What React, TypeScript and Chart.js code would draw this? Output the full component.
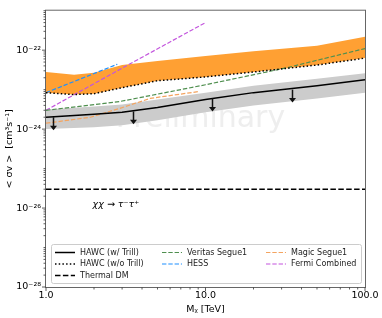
import React, { useEffect, useRef } from 'react';
import { Chart, registerables } from 'chart.js';

Chart.register(...registerables);

// ---- data (TeV, cm^3 s^-1) ----
const hawcMass = [1, 2, 3, 5, 10, 20, 50, 100];
const hawcTrill = [2.0e-24, 2.37e-24, 2.66e-24, 3.55e-24, 5.6e-24, 8.4e-24, 1.26e-23, 1.78e-23];
const hawcBandHigh = [3.16e-24, 3.76e-24, 4.2e-24, 5.6e-24, 8.4e-24, 1.26e-23, 1.88e-23, 2.6e-23];
const hawcBandLow = [1.0e-24, 1.12e-24, 1.26e-24, 1.68e-24, 2.66e-24, 3.98e-24, 5.96e-24, 8.4e-24];

const noTrillMass = [1, 1.5, 2, 3, 5, 10, 20, 50, 100];
const noTrillBandHigh = [2.8e-23, 2.37e-23, 2.66e-23, 4.2e-23, 5.3e-23, 7.1e-23, 9.4e-23, 1.3e-22, 2.2e-22];
const noTrill = [8.4e-24, 7.5e-24, 7.9e-24, 1.12e-23, 1.68e-23, 2.1e-23, 2.8e-23, 4.2e-23, 6.3e-23];

const veritasMass = [1, 2.9, 10, 32, 100];
const veritas = [3.0e-24, 5.0e-24, 1.33e-23, 3.55e-23, 1.1e-22];

const hessMass = [1, 2.8];
const hess = [8.4e-24, 4.4e-23];

const magicMass = [1, 1.9, 3, 4.5, 9];
const magic = [1.41e-24, 2.0e-24, 3.5e-24, 6.0e-24, 8.9e-24];

const fermiMass = [1, 3, 10];
const fermi = [3.0e-24, 3.5e-23, 5.0e-22];

const thermalMass = [1, 100];
const thermal = [3.0e-26, 3.0e-26];

const arrowMass = [1.1, 3.5, 11, 35];
const arrowTop = [2.0e-24, 2.8e-24, 6.0e-24, 1.0e-23];
const arrowBottom = [9.4e-25, 1.33e-24, 2.8e-24, 4.7e-24];

const xLabels: Record<number, string> = { 1: '1.0', 10: '10.0', 100: '100.0' };
const yLabeledExponents = [-28, -26, -24, -22];

const legendCols = [
  ['HAWC (w/ Trill)', 'HAWC (w/o Trill)', 'Thermal DM'],
  ['Veritas Segue1', 'HESS'],
  ['Magic Segue1', 'Fermi Combined'],
];

const FONT = "'DejaVu Sans', 'Noto Sans', sans-serif";

const pts = (xs: number[], ys: number[]) => xs.map((x, i) => ({ x, y: ys[i] }));

const SUP: Record<string, string> = { '-': '⁻', '0': '⁰', '1': '¹', '2': '²', '3': '³', '4': '⁴', '5': '⁵', '6': '⁶', '7': '⁷', '8': '⁸', '9': '⁹' };
const sup = (s: string) => s.split('').map((c) => SUP[c] || c).join('');

const isDecade = (v: number) => Math.abs(Math.log10(v) - Math.round(Math.log10(v))) < 1e-6;

const decorPlugin = {
  id: 'decor',
  beforeDatasetsDraw(chart: any) {
    const { ctx, chartArea: a } = chart;
    ctx.save();
    ctx.font = `30px ${FONT}`;
    ctx.fillStyle = '#eeeeee';
    ctx.textAlign = 'center';
    ctx.textBaseline = 'alphabetic';
    ctx.fillText('Preliminary', (a.left + a.right) / 2 - 5, 127);
    ctx.restore();
  },
  afterDatasetsDraw(chart: any) {
    const { ctx, chartArea: a, scales } = chart;
    const xs = scales.x;
    const ys = scales.y;
    ctx.save();
    // arrows
    ctx.strokeStyle = '#111';
    ctx.fillStyle = '#111';
    ctx.lineWidth = 1.5;
    arrowMass.forEach((m, i) => {
      const px = Math.round(xs.getPixelForValue(m)) + 0.5;
      const y0 = ys.getPixelForValue(arrowTop[i]);
      const y1 = ys.getPixelForValue(arrowBottom[i]);
      ctx.beginPath();
      ctx.moveTo(px, y0);
      ctx.lineTo(px, y1 - 4);
      ctx.stroke();
      ctx.beginPath();
      ctx.moveTo(px - 3.5, y1 - 4.5);
      ctx.lineTo(px + 3.5, y1 - 4.5);
      ctx.lineTo(px, y1);
      ctx.closePath();
      ctx.fill();
    });
    // annotation
    ctx.font = `italic 9.5px ${FONT}`;
    ctx.fillStyle = '#000';
    ctx.textAlign = 'left';
    ctx.textBaseline = 'middle';
    ctx.fillText('χχ → τ⁻τ⁺', xs.getPixelForValue(1.96), ys.getPixelForValue(1.2e-26));
    // frame
    ctx.strokeStyle = '#666';
    ctx.lineWidth = 1;
    ctx.strokeRect(a.left - 0.5, a.top - 0.5, a.right - a.left + 1, a.bottom - a.top + 1);
    // ticks
    ctx.strokeStyle = '#333';
    ctx.lineWidth = 0.8;
    ys.ticks.forEach((t: any) => {
      const py = ys.getPixelForValue(t.value);
      const e = Math.round(Math.log10(t.value));
      const len = isDecade(t.value) && e % 2 === 0 ? 3.5 : 2;
      ctx.beginPath();
      ctx.moveTo(a.left - 0.5, py);
      ctx.lineTo(a.left - 0.5 - len, py);
      ctx.stroke();
    });
    xs.ticks.forEach((t: any) => {
      const px = xs.getPixelForValue(t.value);
      const len = isDecade(t.value) ? 3.5 : 2;
      ctx.beginPath();
      ctx.moveTo(px, a.bottom + 0.5);
      ctx.lineTo(px, a.bottom + 0.5 + len);
      ctx.stroke();
    });
    // legend
    const bx = 51, by = 244, bw = 310, bh = 39;
    ctx.fillStyle = 'rgba(255,255,255,0.85)';
    ctx.strokeStyle = '#cccccc';
    ctx.lineWidth = 1;
    ctx.beginPath();
    (ctx as any).roundRect(bx + 0.5, by + 0.5, bw, bh, 2);
    ctx.fill();
    ctx.stroke();
    const colX = [55, 162, 266];
    const rowY = [252.5, 264, 275.5];
    ctx.font = `8px ${FONT}`;
    ctx.textBaseline = 'middle';
    legendCols.forEach((col, ci) => {
      col.forEach((label, ri) => {
        const ds = chart.data.datasets.find((d: any) => d.label === label);
        if (!ds) return;
        const x0 = colX[ci];
        const y0 = rowY[ri];
        ctx.save();
        ctx.strokeStyle = ds.borderColor;
        ctx.lineWidth = ds.borderWidth;
        ctx.setLineDash(ds.borderDash || []);
        ctx.beginPath();
        ctx.moveTo(x0, y0);
        ctx.lineTo(x0 + 20, y0);
        ctx.stroke();
        ctx.restore();
        ctx.fillStyle = '#222';
        ctx.fillText(label, x0 + 25, y0);
      });
    });
    ctx.restore();
  },
};

export default function App() {
  const ref = useRef<HTMLCanvasElement>(null);
  useEffect(() => {
    if (!ref.current) return;
    const line = (label: string, xs: number[], ys: number[], color: string, width: number, dash: number[] = []) => ({
      label,
      data: pts(xs, ys),
      borderColor: color,
      backgroundColor: color,
      borderWidth: width,
      borderDash: dash,
      pointRadius: 0,
      tension: 0,
      fill: false,
    });
    const chart = new Chart(ref.current, {
      type: 'line',
      data: {
        datasets: [
          line('HAWC (w/ Trill)', hawcMass, hawcTrill, '#000000', 1.5),
          line('HAWC (w/o Trill)', noTrillMass, noTrill, '#000000', 1.5, [1.5, 2.2]),
          line('Thermal DM', thermalMass, thermal, '#000000', 1.5, [5.5, 2.4]),
          line('Veritas Segue1', veritasMass, veritas, '#4f8f4f', 1.2, [4.4, 1.9]),
          line('HESS', hessMass, hess, '#1e90ff', 1.2, [4.4, 1.9]),
          line('Magic Segue1', magicMass, magic, '#f4a460', 1.2, [4.4, 1.9]),
          line('Fermi Combined', fermiMass, fermi, '#c355dd', 1.2, [4.4, 1.9]),
          {
            label: 'noTrillBand',
            data: pts(noTrillMass, noTrillBandHigh),
            borderWidth: 0,
            borderColor: 'rgba(0,0,0,0)',
            backgroundColor: '#ffa033',
            pointRadius: 0,
            tension: 0,
            fill: 1,
          },
          {
            label: 'hawcBandHigh',
            data: pts(hawcMass, hawcBandHigh),
            borderWidth: 0,
            borderColor: 'rgba(0,0,0,0)',
            backgroundColor: '#cccccc',
            pointRadius: 0,
            tension: 0,
            fill: 9,
          },
          {
            label: 'hawcBandLow',
            data: pts(hawcMass, hawcBandLow),
            borderWidth: 0,
            borderColor: 'rgba(0,0,0,0)',
            backgroundColor: '#cccccc',
            pointRadius: 0,
            tension: 0,
            fill: false,
          },
        ] as any,
      },
      options: {
        responsive: false,
        animation: false,
        devicePixelRatio: 1,
        layout: { padding: { left: 0, right: 17, top: 7, bottom: 0 } },
        plugins: { legend: { display: false }, tooltip: { enabled: false } },
        scales: {
          x: {
            type: 'logarithmic',
            min: 1,
            max: 100,
            afterBuildTicks: (s: any) => {
              const t: any[] = [];
              for (let e = 0; e <= 1; e++) for (let k = 1; k <= 9; k++) t.push({ value: k * Math.pow(10, e) });
              t.push({ value: 100 });
              s.ticks = t;
            },
            afterFit: (s: any) => {
              s.height = 31;
            },
            grid: { display: false, drawTicks: false },
            border: { display: false },
            ticks: {
              autoSkip: false,
              maxRotation: 0,
              padding: 3,
              color: '#000',
              font: { family: FONT, size: 9.5 },
              callback: (v: any) => {
                const n = Number(v);
                const key = Object.keys(xLabels).find((k) => Math.abs(Number(k) - n) < 1e-9);
                return key ? xLabels[Number(key)] : '';
              },
            },
            title: {
              display: true,
              text: 'Mᵪ [TeV]',
              color: '#000',
              font: { family: FONT, size: 9.5 },
              padding: { top: 0, bottom: 3 },
            },
          },
          y: {
            type: 'logarithmic',
            min: 1e-28,
            max: 1e-21,
            afterBuildTicks: (s: any) => {
              const t: any[] = [];
              for (let e = -28; e <= -22; e++) for (let k = 1; k <= 9; k++) t.push({ value: k * Math.pow(10, e) });
              t.push({ value: 1e-21 });
              s.ticks = t;
            },
            afterFit: (s: any) => {
              s.width = 46;
            },
            grid: { display: false, drawTicks: false },
            border: { display: false },
            ticks: {
              autoSkip: false,
              padding: 5,
              color: '#000',
              font: { family: FONT, size: 9.5 },
              callback: (v: any) => {
                const n = Number(v);
                if (!isDecade(n)) return '';
                const e = Math.round(Math.log10(n));
                return yLabeledExponents.includes(e) ? '10' + sup(String(e)) : '';
              },
            },
            title: {
              display: true,
              text: '< σv >  [cm³s⁻¹]',
              color: '#000',
              font: { family: FONT, size: 9.5 },
              padding: { top: 4, bottom: 0 },
            },
          },
        },
      },
      plugins: [decorPlugin],
    });
    return () => chart.destroy();
  }, []);
  return (
    <div style={{ position: 'fixed', left: 0, top: 0, width: 382, height: 318, background: '#fff' }}>
      <canvas ref={ref} width={382} height={318} style={{ display: 'block', width: 382, height: 318 }} />
    </div>
  );
}
